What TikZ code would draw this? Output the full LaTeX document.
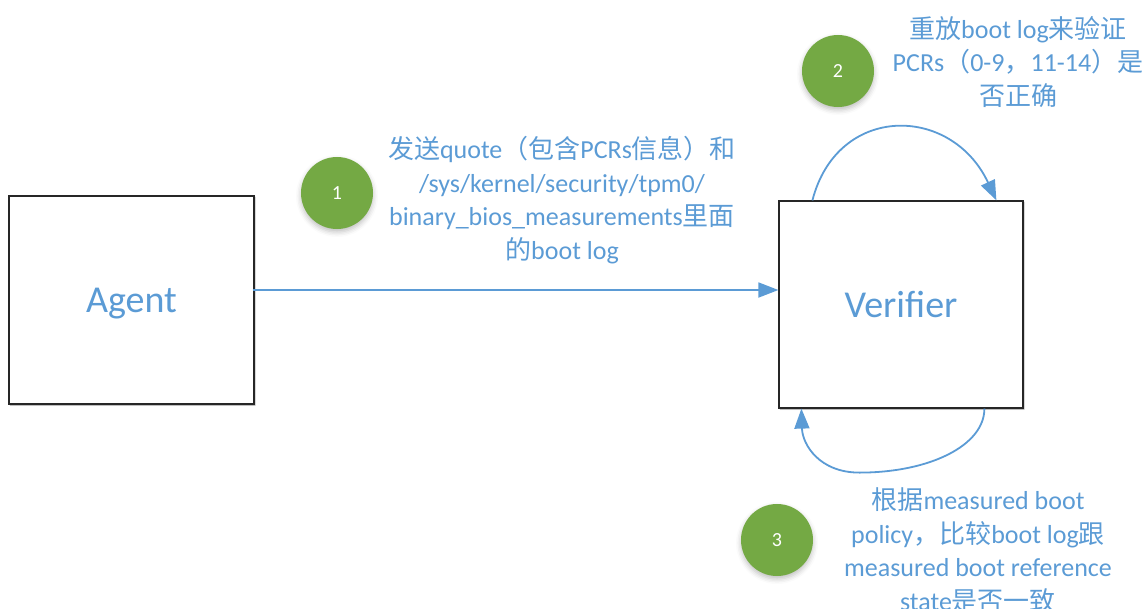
\documentclass[tikz,border=0pt]{standalone}
\usepackage{fontspec}
\setmainfont{Carlito}
\newfontfamily\cjk{Noto Sans CJK SC}
\usetikzlibrary{arrows.meta,shadows.blur,calc}
\definecolor{txtblue}{HTML}{5B9BD5}
\definecolor{stepgreen}{HTML}{74A944}
\newcommand\zh[1]{{\cjk #1}}

\begin{document}
\begin{tikzpicture}[x=1pt,y=-1pt,
  box/.style={draw=black!85, fill=white, line width=1.2pt, minimum width=245pt, minimum height=208pt,
    font=\fontsize{38}{44}\selectfont, text=txtblue, inner sep=0pt,
    text height=25pt, text depth=0pt,
    blur shadow={shadow xshift=1pt, shadow yshift=-1pt, shadow blur radius=1pt, shadow opacity=35}},
  badge/.style={circle, fill=stepgreen, minimum size=72pt, inner sep=0pt, text=white,
    font=\fontsize{20}{22}\selectfont,
    blur shadow={shadow xshift=0pt, shadow yshift=-3pt, shadow blur radius=5pt, shadow opacity=25}},
  note/.style={align=center, text=txtblue, font=\fontsize{26}{33.5}\selectfont, inner sep=0pt},
  flow/.style={draw=txtblue, line width=1.8pt, -{Triangle[length=20pt,width=15pt]}},
]
\useasboundingbox (0,0) rectangle (1146,608);

% the two parties
\node[box] (agent) at (131.5,300) {Agent};
\node[box, minimum width=244pt, minimum height=207pt] (ver) at (901,304.5) {Verifier};

% numbered steps
\node[badge] (s1) at (337,193) {1};
\node[badge] (s2) at (838,71) {2};
\node[badge] (s3) at (777,540) {3};

% step descriptions
\node[note] (n1) at (562,200) {\zh{发送}quote\zh{（包含}PCRs\zh{信息）和}\\
  /sys/kernel/security/tpm0/\\
  binary\_bios\_measurements\zh{里面}\\
  \zh{的}boot log};
\node[note] (n2) at (1018,62) {\zh{重放}boot log\zh{来验证}\\
  PCRs\zh{（}0-9\zh{，}11-14\zh{）是}\\
  \zh{否正确}};
\node[note] (n3) at (978,550) {\zh{根据}measured boot\\
  policy\zh{，比较}boot log\zh{跟}\\
  measured boot reference\\
  state\zh{是否一致}};

% connectors
\coordinate (a1) at ($(agent.east)+(-2,-10)$);
\coordinate (v1) at (ver.west |- a1);
\draw[flow] (a1) -- (v1);

\coordinate (c2a) at ($(ver.north west)+(34,0)$);
\coordinate (c2b) at ($(ver.north west)+(218,0)$);
\draw[flow] (c2a) .. controls +(25,-97) and +(-45,-96) .. (c2b);

\coordinate (c3a) at ($(ver.south west)+(206,0)$);
\coordinate (c3m) at ($(ver.south west)+(81,64)$);
\coordinate (c3b) at ($(ver.south west)+(23,0)$);
\draw[flow] (c3a) .. controls +(0,37) and +(70,0) .. (c3m)
  .. controls +(-40,0) and +(1,36) .. (c3b);
\end{tikzpicture}
\end{document}
